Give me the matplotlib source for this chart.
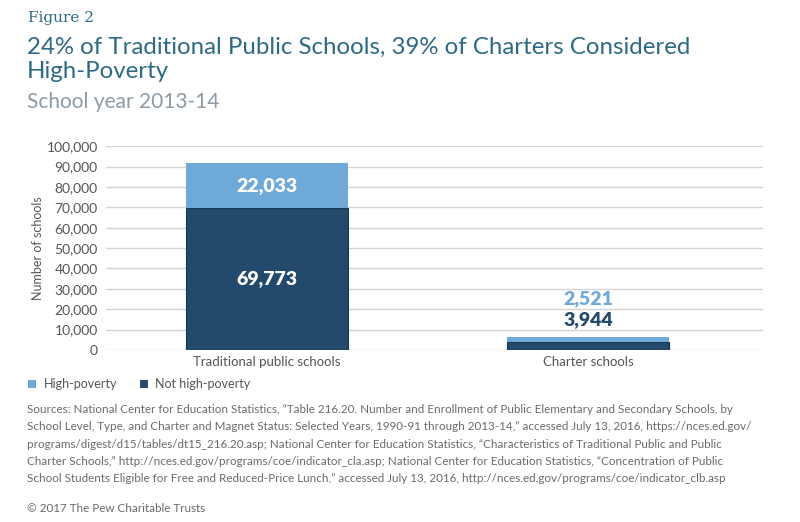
import matplotlib
matplotlib.use("Agg")
import matplotlib.pyplot as plt
from matplotlib.patches import Rectangle

categories = ["Traditional public schools", "Charter schools"]
not_high_poverty = [69773, 3944]
high_poverty = [22033, 2521]
series_names = ["High-poverty", "Not high-poverty"]
yticks = [0, 10000, 20000, 30000, 40000, 50000, 60000, 70000, 80000, 90000, 100000]

DARK = "#234a6a"
LIGHT = "#6fa9d8"
TITLE_C = "#2d6a84"
SUB_C = "#8c9ba6"
TEXT_C = "#555555"

plt.rcParams['font.family'] = ['Lato', 'DejaVu Sans']

fig = plt.figure(figsize=(8, 5.22), dpi=100)
ax = fig.add_axes([0.1325, 0.3295, 0.954 - 0.1325, 0.720 - 0.3295])

x = list(range(len(categories)))
w = 0.505
ax.bar(x, not_high_poverty, width=w, color=DARK, edgecolor="#163750", linewidth=0.8, zorder=3)
ax.bar(x, high_poverty, width=w, bottom=not_high_poverty, color=LIGHT, zorder=3)

ax.set_xlim(-0.5, 1.545)
ax.set_ylim(0, 100000)
ax.set_yticks(yticks)
ax.set_yticklabels([f"{v:,}" for v in yticks], fontsize=10, color=TEXT_C)
ax.set_xticks(x)
ax.set_xticklabels(categories, fontsize=9.5, color=TEXT_C)
ax.tick_params(length=0, pad=4)
ax.tick_params(axis='y', pad=6)
ax.grid(axis='y', color="#d4d4d4", linewidth=1, zorder=0)
for s in ax.spines.values():
    s.set_visible(False)
ax.set_ylabel("Number of schools", fontsize=9, color=TEXT_C, labelpad=2)

# value labels
lbl = dict(ha='center', va='center', fontsize=14, fontweight='heavy', zorder=4)
ax.text(x[0], not_high_poverty[0] / 2, f"{not_high_poverty[0]:,}", color='white', **lbl)
ax.text(x[0], not_high_poverty[0] + high_poverty[0] / 2, f"{high_poverty[0]:,}", color='white', **lbl)
ax.text(x[1], 14800, f"{not_high_poverty[1]:,}", color=DARK, **lbl)
ax.text(x[1], 25000, f"{high_poverty[1]:,}", color=LIGHT, **lbl)

# Titles
fig.text(28/800, 1 - 18/522, "Figure 2", fontsize=11, color=TITLE_C, va='center', family=['DejaVu Serif'])
fig.text(27/800, 1 - 47/522, "24% of Traditional Public Schools, 39% of Charters Considered",
         fontsize=17.3, color=TITLE_C, va='center')
fig.text(27/800, 1 - 72/522, "High-Poverty", fontsize=17.3, color=TITLE_C, va='center')
fig.text(27/800, 1 - 102/522, "School year 2013-14", fontsize=15, color=SUB_C, va='center')

# Legend
fig.patches.append(Rectangle((28/800, 1 - 388/522), 8/800, 8/522, transform=fig.transFigure,
                             facecolor=LIGHT, edgecolor='none'))
fig.text(44/800, 1 - 384/522, series_names[0], fontsize=9, color=TEXT_C, va='center')
fig.patches.append(Rectangle((140/800, 1 - 388/522), 8/800, 8/522, transform=fig.transFigure,
                             facecolor=DARK, edgecolor='none'))
fig.text(155/800, 1 - 384/522, series_names[1], fontsize=9, color=TEXT_C, va='center')

sources = ("Sources: National Center for Education Statistics, \u201cTable 216.20. Number and Enrollment of Public Elementary and Secondary Schools, by\n"
           "School Level, Type, and Charter and Magnet Status: Selected Years, 1990-91 through 2013-14,\u201d accessed July 13, 2016, https://nces.ed.gov/\n"
           "programs/digest/d15/tables/dt15_216.20.asp; National Center for Education Statistics, \u201cCharacteristics of Traditional Public and Public\n"
           "Charter Schools,\u201d http://nces.ed.gov/programs/coe/indicator_cla.asp; National Center for Education Statistics, \u201cConcentration of Public\n"
           "School Students Eligible for Free and Reduced-Price Lunch,\u201d accessed July 13, 2016, http://nces.ed.gov/programs/coe/indicator_clb.asp")
fig.text(27/800, 1 - 404/522, sources, fontsize=8.35, color="#6a6a6a", va='top', linespacing=1.7)
fig.text(27/800, 1 - 508/522, "\u00a9 2017 The Pew Charitable Trusts", fontsize=8.35, color="#6a6a6a", va='center')

fig.savefig("out.png", dpi=100, facecolor='white')
